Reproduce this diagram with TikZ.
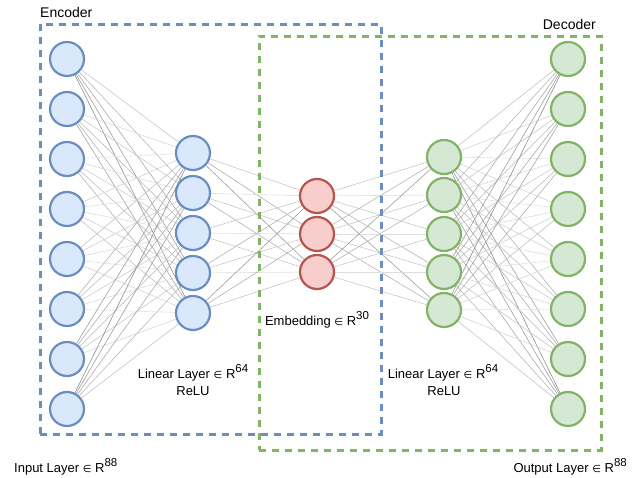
\documentclass[tikz,border=0pt]{standalone}
\usepackage{fontspec}
\setmainfont{Liberation Sans}
\newfontfamily\symfont{DejaVu Sans}
\usetikzlibrary{backgrounds}

\definecolor{encfill}{HTML}{DAE8FC}
\definecolor{encline}{HTML}{6C8EBF}
\definecolor{embfill}{HTML}{F8CECC}
\definecolor{embline}{HTML}{B85450}
\definecolor{decfill}{HTML}{D5E8D4}
\definecolor{decline}{HTML}{82B366}

% element-of sign, set a little smaller than the text
\newcommand\elemof{{\symfont\fontsize{10}{13}\selectfont ∈}}
% raised exponent of the vector space
\newcommand\dimsup[1]{\raisebox{0.42em}{\fontsize{11.5}{13}\selectfont #1}}

\tikzset{
  neuron/.style={circle, minimum size=34pt, inner sep=0pt, line width=2.2pt},
  encnode/.style={neuron, fill=encfill, draw=encline},
  embnode/.style={neuron, fill=embfill, draw=embline},
  decnode/.style={neuron, fill=decfill, draw=decline},
  groupbox/.style={line width=2.8pt, dash pattern=on 7pt off 6pt},
  lbl/.style={font=\fontsize{13}{17}\selectfont, inner sep=0pt, align=center},
  title/.style={font=\fontsize{14}{17}\selectfont, inner sep=0pt},
}

\begin{document}
\begin{tikzpicture}[x=1pt, y=-1pt]
\useasboundingbox (0,0) rectangle (637,478);

% layers of neurons
\foreach \y [count=\i] in {59,109,159,209,259,309,359,409}
  \node[encnode] (in\i) at (67,\y) {};
\foreach \y [count=\i] in {153,193,233,273,313}
  \node[encnode] (he\i) at (193,\y) {};
\foreach \y [count=\i] in {196,234,272}
  \node[embnode] (em\i) at (317,\y) {};
\foreach \y [count=\i] in {157,195,234,272,310}
  \node[decnode] (hd\i) at (444,\y) {};
\foreach \y [count=\i] in {59,109,159,209,259,309,359,409}
  \node[decnode] (out\i) at (568,\y) {};

% full connections, steeper links drawn darker
\begin{scope}[on background layer]
  \foreach \ya [count=\i] in {59,109,159,209,259,309,359,409}
    \foreach \yb [count=\j] in {153,193,233,273,313} {
      \pgfmathsetmacro\s{int(11+16*abs(\yb-\ya)/126)}
      \draw[black!\s, line width=0.6pt] (in\i) -- (he\j);
    }
  \foreach \ya [count=\i] in {153,193,233,273,313}
    \foreach \yb [count=\j] in {196,234,272} {
      \pgfmathsetmacro\s{int(13+28*abs(\yb-\ya)/124)}
      \draw[black!\s, line width=0.6pt] (he\i) -- (em\j);
    }
  \foreach \ya [count=\i] in {196,234,272}
    \foreach \yb [count=\j] in {157,195,234,272,310} {
      \pgfmathsetmacro\s{int(13+28*abs(\yb-\ya)/127)}
      \draw[black!\s, line width=0.6pt] (em\i) -- (hd\j);
    }
  \foreach \ya [count=\i] in {157,195,234,272,310}
    \foreach \yb [count=\j] in {59,109,159,209,259,309,359,409} {
      \pgfmathsetmacro\s{int(11+16*abs(\yb-\ya)/124)}
      \draw[black!\s, line width=0.6pt] (hd\i) -- (out\j);
    }
\end{scope}

% encoder and decoder groups
\node[draw=decline, groupbox, inner sep=0pt, minimum width=342pt, minimum height=414pt, anchor=north west] (decbox) at (258,35) {};
\node[draw=encline, groupbox, inner sep=0pt, minimum width=341pt, minimum height=410pt, anchor=north west] (encbox) at (39,23) {};

% labels
\node[title, anchor=base west] (enctitle) at (40,18) {Encoder};
\node[title, anchor=base east] (dectitle) at (596,30) {Decoder};
\node[lbl, anchor=base west] (inlbl) at (14,472) {Input Layer \elemof{} R\dimsup{88}};
\node[lbl, anchor=base east] (outlbl) at (627,472) {Output Layer \elemof{} R\dimsup{88}};
\node[lbl, anchor=base] (emblbl) at (317,325) {Embedding \elemof{} R\dimsup{30}};
\node[lbl, anchor=base] (henclbl) at (193,378) {Linear Layer \elemof{} R\dimsup{64}};
\node[lbl, anchor=base] (hencact) at (193,395) {ReLU};
\node[lbl, anchor=base] (hdeclbl) at (443,378) {Linear Layer \elemof{} R\dimsup{64}};
\node[lbl, anchor=base] (hdecact) at (444,395) {ReLU};
\end{tikzpicture}
\end{document}
